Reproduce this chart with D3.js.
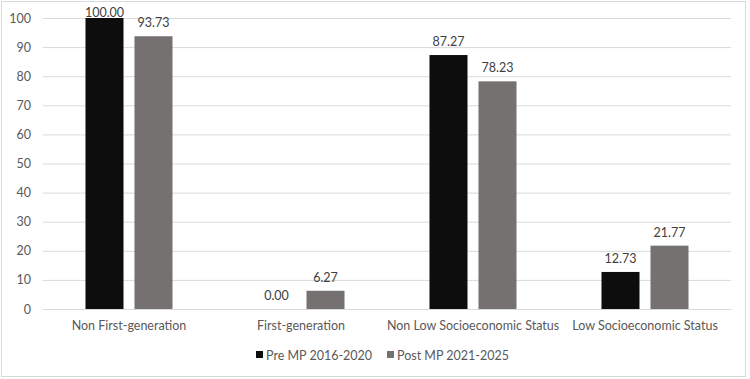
<!DOCTYPE html>
<html><head><meta charset="utf-8">
<script src="https://cdn.jsdelivr.net/npm/d3@7"></script>
<style>body{margin:0;background:#fff}svg{display:block;font-family:Lato,"Open Sans",sans-serif}</style>
</head><body><svg id="c" width="750" height="379"></svg>
<script>
const categories = ["Non First-generation","First-generation","Non Low Socioeconomic Status","Low Socioeconomic Status"];
const seriesNames = ["Pre MP 2016-2020","Post MP 2021-2025"];
const preValues = [100.00, 0.00, 87.27, 12.73];
const postValues = [93.73, 6.27, 78.23, 21.77];
const colors = ["#0d0d0d","#767171"];
const yTicks = [0,10,20,30,40,50,60,70,80,90,100];

(function(){
const FS = "12.5px";
const svg = d3.select("#c");
svg.append("rect").attr("x",1.5).attr("y",1.5).attr("width",744).attr("height",375)
  .attr("fill","#fff").attr("stroke","#d9d9d9");

const pLeft=43,pRight=731,pTop=18,pBottom=309;
const x = d3.scaleBand().domain(categories).range([pLeft,pRight]);
const y = d3.scaleLinear().domain([0,100]).range([pBottom,pTop]);
const inner = d3.scaleBand().domain(seriesNames).range([0,x.bandwidth()]).paddingInner(0.2245).paddingOuter(0.867);

svg.append("g").selectAll("line").data(yTicks).join("line")
  .attr("x1",pLeft).attr("x2",pRight).attr("y1",d=>y(d)+0.5).attr("y2",d=>y(d)+0.5)
  .attr("stroke","#d9d9d9").attr("stroke-width",1);

const yAxis = svg.append("g").attr("transform",`translate(${pLeft},0)`)
  .call(d3.axisLeft(y).tickValues(yTicks).tickSize(0).tickPadding(12));
yAxis.select(".domain").remove();
yAxis.selectAll("text").attr("fill","#595959").style("font-size",FS).style("font-family","Lato,'Open Sans',sans-serif");

const data = [preValues, postValues];
data.forEach((vals,si)=>{
  const g = svg.append("g");
  g.selectAll("rect").data(vals).join("rect")
    .attr("x",(d,i)=>x(categories[i])+inner(seriesNames[si]))
    .attr("width",inner.bandwidth())
    .attr("y",d=>y(d)).attr("height",d=>pBottom-y(d))
    .attr("fill",colors[si]);
  g.selectAll("text").data(vals).join("text")
    .attr("x",(d,i)=>x(categories[i])+inner(seriesNames[si])+inner.bandwidth()/2)
    .attr("y",d=>Math.max(y(d)-9,16.5))
    .attr("text-anchor","middle").attr("fill","#404040").style("font-size",FS)
    .text(d=>d.toFixed(2));
});

const xAxis = svg.append("g").attr("transform",`translate(0,${pBottom})`)
  .call(d3.axisBottom(x).tickSize(0).tickPadding(12));
xAxis.select(".domain").attr("stroke","#d9d9d9");
xAxis.selectAll("text").attr("fill","#595959").style("font-size",FS).style("font-family","Lato,'Open Sans',sans-serif");

const legend = svg.append("g");
const lx=[256,387];
seriesNames.forEach((s,i)=>{
  legend.append("rect").attr("x",lx[i]).attr("y",351).attr("width",7).attr("height",7).attr("fill",colors[i]);
  legend.append("text").attr("x",lx[i]+10).attr("y",359.5).attr("fill","#595959").style("font-size",FS).text(s);
});
})();
</script></body></html>
